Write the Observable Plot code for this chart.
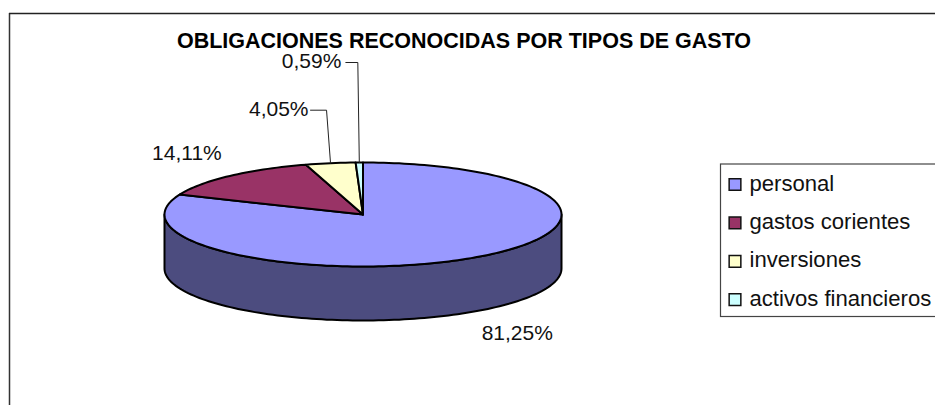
<!DOCTYPE html>
<html>
<head>
<meta charset="utf-8">
<script src="https://cdn.jsdelivr.net/npm/d3@7"></script>
<script src="https://cdn.jsdelivr.net/npm/@observablehq/plot@0.6"></script>
<style>
html,body{margin:0;padding:0;background:#fff;overflow:hidden}
svg{display:block}
</style>
</head>
<body>
<div id="chart"></div>
<script>
const title = "OBLIGACIONES RECONOCIDAS POR TIPOS DE GASTO";
const categories = ["personal", "gastos corientes", "inversiones", "activos financieros"];
const shares = [81.25, 14.11, 4.05, 0.59];
const shareLabels = ["81,25%", "14,11%", "4,05%", "0,59%"];
const colors = ["#9999FF", "#993366", "#FFFFCC", "#CCFFFF"];
const wallColor = "#4C4C7F";

const font = "Liberation Sans, Arial, sans-serif";
const W = 935, H = 405;
const cx = 362.5, cy = 214, rx = 198.5, ry = 52, depth = 54;

// angle measured clockwise from 12 o'clock, in degrees
const total = d3.sum(shares);
let acc = 0;
const slices = shares.map((v, i) => {
  const a0 = acc / total * 360; acc += v; const a1 = acc / total * 360;
  return {i, a0, a1, mid: (a0 + a1) / 2};
});
const pt = (a, dy = 0) => {
  const t = a * Math.PI / 180;
  return {x: cx + rx * Math.sin(t), y: cy - ry * Math.cos(t) + dy};
};
const arc = (a0, a1, dy = 0) => {
  const n = Math.max(2, Math.ceil((a1 - a0) / 1.5));
  return d3.range(n + 1).map(k => pt(a0 + (a1 - a0) * k / n, dy));
};

const marks = [];

// chart frame
marks.push(Plot.ruleX([9], {y1: 13, y2: H, stroke: "#333", strokeWidth: 1.5}));
marks.push(Plot.ruleY([13], {x1: 9, x2: W, stroke: "#222", strokeWidth: 1.5}));

// side wall: front half only
for (const s of slices) {
  const a0 = Math.max(s.a0, 90), a1 = Math.min(s.a1, 270);
  if (a1 <= a0) continue;
  const poly = [...arc(a0, a1, 0), ...arc(a0, a1, depth).reverse()];
  poly.push(poly[0]);
  marks.push(Plot.line(poly, {x: "x", y: "y", fill: wallColor, stroke: "#000", strokeWidth: 2, strokeLinejoin: "round"}));
}
// top faces
for (const s of slices) {
  const c = {x: cx, y: cy};
  const poly = [c, ...arc(s.a0, s.a1), c];
  marks.push(Plot.line(poly, {x: "x", y: "y", fill: colors[s.i], stroke: "#000", strokeWidth: 2, strokeLinejoin: "round"}));
}

// leader lines for the two thin slices
const leaderOffsets = {2: {dx: -4, dy: -53, len: 16}, 3: {dx: -1.5, dy: -100, len: 12}};
for (const [k, o] of Object.entries(leaderOffsets)) {
  const p = pt(slices[k].mid);
  const elbow = {x: p.x + o.dx, y: p.y + o.dy};
  marks.push(Plot.line([{x: elbow.x - o.len, y: elbow.y}, elbow, p], {x: "x", y: "y", stroke: "#222", strokeWidth: 1}));
}

// value labels, placed relative to each slice's mid-angle
const labelOffsets = [
  {dx: 44, dy: 76, anchor: "middle"},
  {dx: -43, dy: -23, anchor: "middle"},
  {dx: -22, dy: -54, anchor: "end"},
  {dx: -18, dy: -101, anchor: "end"}
];
slices.forEach(s => {
  const p = pt(s.mid), o = labelOffsets[s.i];
  marks.push(Plot.text([shareLabels[s.i]], {
    x: () => p.x + o.dx, y: () => p.y + o.dy, text: d => d,
    textAnchor: o.anchor, fontSize: 21, fontFamily: font, fill: "#111"
  }));
});

// title
marks.push(Plot.text([title], {x: () => 463.5, y: () => 40.5, text: d => d, fontSize: 21.5, fontWeight: "bold", fontFamily: font, fill: "#000"}));

// legend
const legY = i => 184 + i * 38.4;
marks.push(Plot.rect([0], {x1: () => 720.5, x2: () => 945, y1: () => 164, y2: () => 316.5, fill: "#fff", stroke: "#444", strokeWidth: 1.2}));
categories.forEach((c, i) => {
  marks.push(Plot.dot([c], {x: () => 734.5, y: () => legY(i), symbol: "square", r: 6.6, fill: colors[i], stroke: "#111", strokeWidth: 1.5}));
  marks.push(Plot.text([c], {x: () => 749, y: () => legY(i) - 1, text: d => d, textAnchor: "start", fontSize: 22.1, fontFamily: font, fill: "#111"}));
});

const plot = Plot.plot({
  width: W, height: H,
  margin: 0,
  x: {domain: [0, W], range: [0, W], axis: null},
  y: {domain: [0, H], range: [0, H], axis: null},
  style: {background: "#fff"},
  marks
});
document.getElementById("chart").append(plot);
</script>
</body>
</html>
